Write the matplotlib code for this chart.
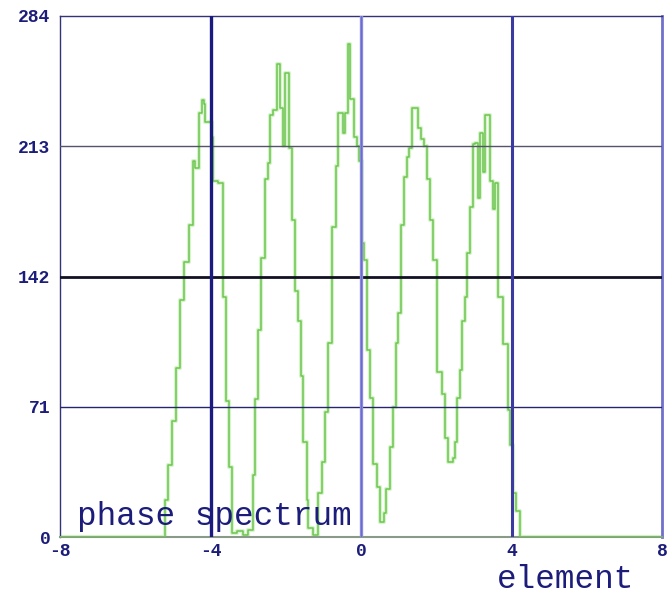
import matplotlib
matplotlib.use("Agg")
import matplotlib.pyplot as plt

# ---- data -------------------------------------------------------------
x_edges = [-8, -5.21, -5.13, -5.02, -4.92, -4.81, -4.70, -4.57, -4.47, -4.41,
           -4.31, -4.23, -4.17, -4.15, -3.96, -3.93, -3.80, -3.67, -3.59, -3.51,
           -3.43, -3.30, -3.14, -3.00, -2.87, -2.82, -2.74, -2.66, -2.55, -2.47,
           -2.42, -2.34, -2.23, -2.15, -2.07, -2.02, -1.91, -1.83, -1.75, -1.67,
           -1.59, -1.54, -1.44, -1.41, -1.28, -1.14, -1.04, -0.96, -0.88, -0.77,
           -0.66, -0.61, -0.48, -0.43, -0.35, -0.29, -0.19, -0.11, -0.05, 0.03,
           0.08, 0.16, 0.24, 0.32, 0.43, 0.50, 0.61, 0.66, 0.77, 0.85,
           0.93, 0.98, 1.06, 1.14, 1.22, 1.28, 1.36, 1.51, 1.59, 1.67,
           1.75, 1.83, 1.91, 2.02, 2.15, 2.23, 2.31, 2.45, 2.50, 2.55,
           2.63, 2.68, 2.76, 2.82, 2.90, 2.98, 3.03, 3.11, 3.16, 3.24,
           3.30, 3.43, 3.51, 3.56, 3.64, 3.77, 3.91, 3.96, 4.04, 4.12,
           4.23, 8]
phase_values = [0, 20, 39, 63, 92, 129, 150, 170, 205, 201,
                231, 238, 236, 226, 218, 194, 193, 131, 74, 38,
                2, 3, 1, 4, 34, 75, 113, 152, 195, 204,
                230, 233, 258, 234, 213, 253, 212, 173, 134, 118,
                88, 52, 20, 5, 1, 24, 41, 68, 106, 169,
                202, 231, 220, 231, 269, 239, 218, 213, 205, 160,
                151, 102, 76, 40, 27, 8, 13, 26, 49, 71,
                106, 122, 170, 196, 207, 212, 234, 223, 217, 213,
                195, 173, 151, 90, 78, 54, 41, 43, 52, 76,
                91, 118, 131, 155, 180, 214, 215, 185, 220, 199,
                230, 194, 179, 193, 131, 105, 69, 50, 24, 14,
                0, 0]

x_ticks = [-8, -4, 0, 4, 8]
x_tick_labels = ["-8", "-4", "0", "4", "8"]
y_ticks = [0, 71, 142, 213, 284]
y_tick_labels = ["0", "71", "142", "213", "284"]

# ---- figure -----------------------------------------------------------
fig = plt.figure(figsize=(6.67, 5.95), dpi=100)
ax = fig.add_axes([60 / 667, 1 - 537 / 595, 602 / 667, 521 / 595])
ax.set_xlim(-8, 8)
ax.set_ylim(0, 284)

navy = "#1c1c7a"

# curve (light halo + core)
ax.step(x_edges, phase_values, where="post", color="#d8f4cc", lw=3.0, zorder=2)
ax.step(x_edges, phase_values, where="post", color="#6cc650", lw=1.1, zorder=3)

# grid lines
ax.axhline(71, color="#26266e", lw=1.0, zorder=4)
ax.axhline(142, color="#111122", lw=2.0, zorder=4)
ax.axhline(213, color="#55556a", lw=1.0, zorder=4)
ax.axvline(-4, color="#1a1a80", lw=2.4, zorder=4)
ax.axvline(0, color="#9090e0", lw=2.4, zorder=4)
ax.axvline(0, color="#6a6ad0", lw=1.0, zorder=4)
ax.axvline(4, color="#3a3aa0", lw=2.2, zorder=4)

# spines
for side in ["left", "top"]:
    ax.spines[side].set_color("#333377")
    ax.spines[side].set_linewidth(1.0)
ax.spines["right"].set_color("#7070cc")
ax.spines["right"].set_linewidth(2.0)
ax.spines["bottom"].set_color("#8a9a88")
ax.spines["bottom"].set_linewidth(1.5)

ax.set_xticks(x_ticks)
ax.set_xticklabels(x_tick_labels)
ax.set_yticks(y_ticks)
ax.set_yticklabels(y_tick_labels)
ax.tick_params(axis="both", length=0, colors=navy)
ax.tick_params(axis="y", pad=7)
ax.tick_params(axis="x", pad=4)
for lab in ax.get_xticklabels() + ax.get_yticklabels():
    lab.set_fontfamily("Liberation Mono")
    lab.set_fontweight("bold")
    lab.set_fontsize(13)
    lab.set_color(navy)

ax.text(-7.55, 6.5, "phase spectrum", family="Liberation Mono", fontsize=23.5,
        color=navy, va="baseline", ha="left", zorder=5)
fig.text(497 / 667, 0.012, "element", family="Liberation Mono", fontsize=23.5,
         color=navy, va="baseline", ha="left")

fig.savefig("out.png", dpi=100)
